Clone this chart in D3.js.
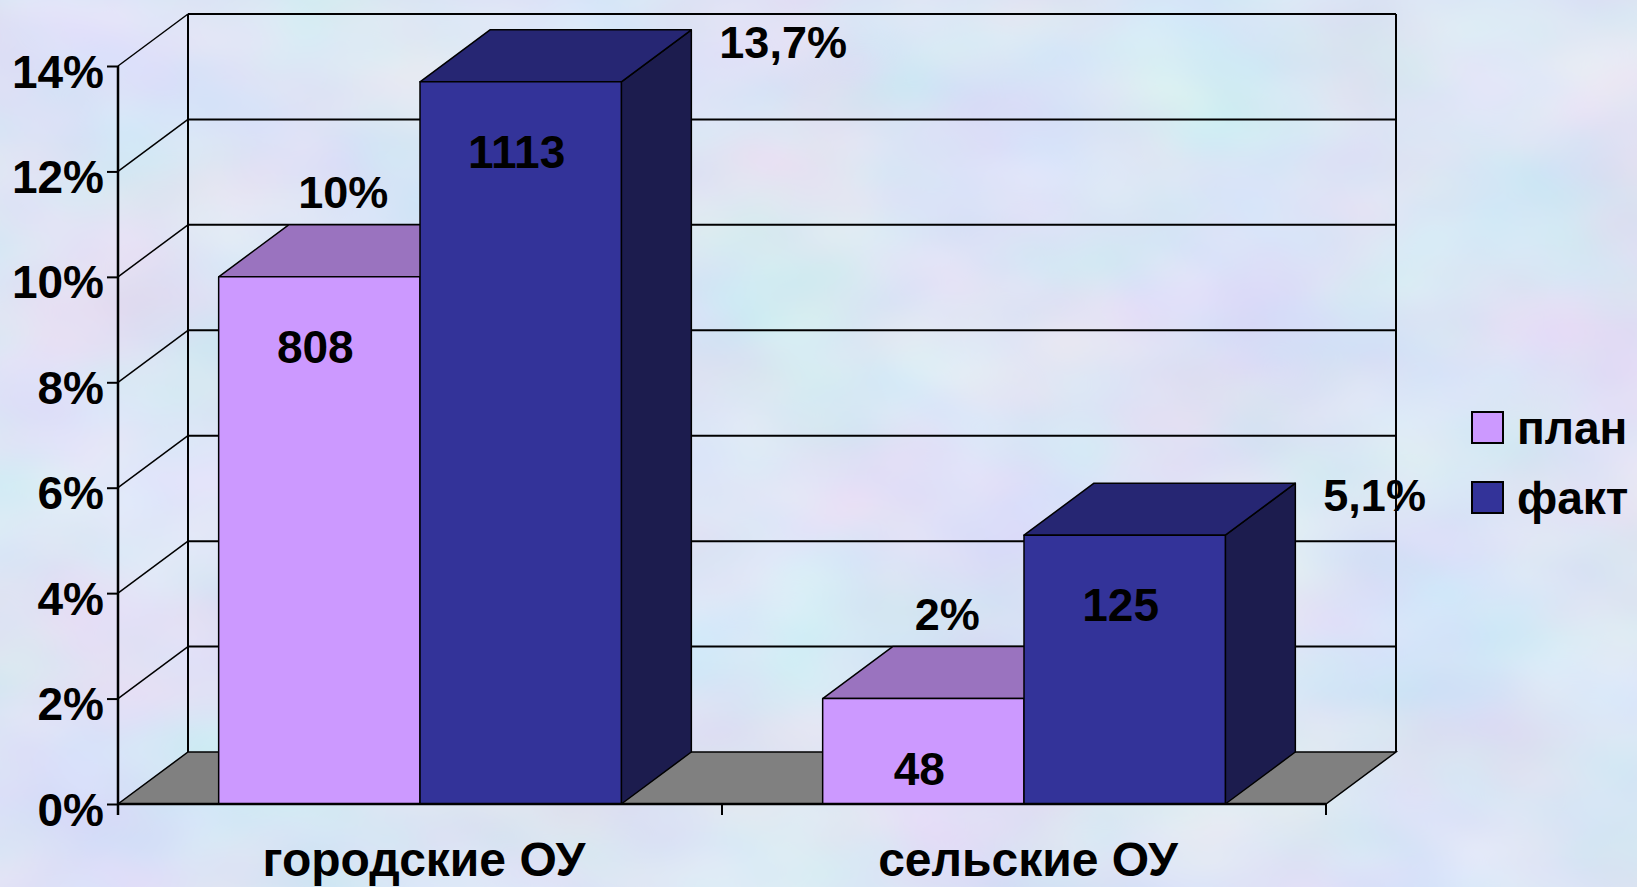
<!DOCTYPE html>
<html>
<head>
<meta charset="utf-8">
<script src="https://cdn.jsdelivr.net/npm/d3@7.9.0/dist/d3.min.js"></script>
<style>
  html, body { margin: 0; padding: 0; overflow: hidden; }
  svg { display: block; }
  text { font-family: Arial, "Liberation Sans", sans-serif; font-weight: bold; fill: #000; }
</style>
</head>
<body>
<svg id="chart"></svg>
<script>
const categories = ["городские ОУ", "сельские ОУ"];
const seriesNames = ["план", "факт"];
const planShare = [0.10, 0.02];
const factShare = [0.137, 0.051];
const planCount = [808, 48];
const factCount = [1113, 125];
const yTicks = [0, 0.02, 0.04, 0.06, 0.08, 0.10, 0.12, 0.14];

const width = 1637, height = 887;
const depth = { dx: 70, dy: -52 };
const colors = {
    "план": { front: "#cc99ff", top: "#9a73bf", side: "#664d80" },
    "факт": { front: "#333399", top: "#262673", side: "#1c1c4e" }
};

const svg = d3.select("#chart").attr("width", width).attr("height", height);

// cloudy background
const defs = svg.append("defs");
const filt = defs.append("filter").attr("id", "clouds")
    .attr("x", 0).attr("y", 0).attr("width", "100%").attr("height", "100%");
filt.append("feTurbulence").attr("type", "fractalNoise")
    .attr("baseFrequency", "0.0045 0.007").attr("numOctaves", 3).attr("seed", 7);
filt.append("feColorMatrix").attr("type", "matrix")
    .attr("values", "0.32 0 0 0 0.55  0 0.24 0 0 0.66  0 0 0.14 0 0.84  0 0 0 0 1");
svg.append("rect").attr("width", width).attr("height", height).attr("fill", "#c8d6f2");
svg.append("rect").attr("width", width).attr("height", height).attr("filter", "url(#clouds)");

const x = d3.scaleBand().domain(categories).range([118, 1326]);
const xs = d3.scaleBand().domain(seriesNames).range([0, x.bandwidth()]).paddingOuter(0.5);
const y = d3.scaleLinear().domain([0, 0.14]).range([804, 66]);

const x0 = x.range()[0], x1 = x.range()[1];
const pct = v => d3.format(".1~f")(v * 100).replace(".", ",") + "%";

// back wall and side wall gridlines
const grid = svg.append("g").attr("stroke", "#000").attr("fill", "none");
grid.selectAll(".back").data(yTicks.slice(1)).join("line")
    .attr("x1", x0 + depth.dx).attr("x2", x1 + depth.dx)
    .attr("y1", d => y(d) + depth.dy).attr("y2", d => y(d) + depth.dy)
    .attr("stroke-width", 2);
grid.selectAll(".side").data(yTicks.slice(1)).join("line")
    .attr("x1", x0).attr("x2", x0 + depth.dx)
    .attr("y1", d => y(d)).attr("y2", d => y(d) + depth.dy)
    .attr("stroke-width", 1.5);
grid.append("line")
    .attr("x1", x0 + depth.dx).attr("x2", x0 + depth.dx)
    .attr("y1", y(0.14) + depth.dy).attr("y2", y(0) + depth.dy).attr("stroke-width", 2);
grid.append("line")
    .attr("x1", x1 + depth.dx).attr("x2", x1 + depth.dx)
    .attr("y1", y(0.14) + depth.dy).attr("y2", y(0) + depth.dy).attr("stroke-width", 2);

// floor
svg.append("path")
    .attr("d", `M${x0},${y(0)}L${x1},${y(0)}L${x1 + depth.dx},${y(0) + depth.dy}L${x0 + depth.dx},${y(0) + depth.dy}Z`)
    .attr("fill", "#808080").attr("stroke", "#000").attr("stroke-width", 1.5);

// bars
const bars = [];
categories.forEach((c, i) => {
    bars.push({ cat: c, s: "план", v: planShare[i], n: planCount[i] });
    bars.push({ cat: c, s: "факт", v: factShare[i], n: factCount[i] });
});

const barG = svg.append("g").attr("stroke", "#000").attr("stroke-width", 1.5).attr("stroke-linejoin", "round");
bars.forEach(b => {
    const bx = x(b.cat) + xs(b.s), bw = xs.bandwidth();
    const top = y(b.v), base = y(0);
    const g = barG.append("g");
    g.append("path")
        .attr("d", `M${bx + bw},${base}L${bx + bw + depth.dx},${base + depth.dy}L${bx + bw + depth.dx},${top + depth.dy}L${bx + bw},${top}Z`)
        .attr("fill", colors[b.s].side);
    g.append("path")
        .attr("d", `M${bx},${top}L${bx + depth.dx},${top + depth.dy}L${bx + bw + depth.dx},${top + depth.dy}L${bx + bw},${top}Z`)
        .attr("fill", colors[b.s].top);
    g.append("rect")
        .attr("x", bx).attr("y", top).attr("width", bw).attr("height", base - top)
        .attr("fill", colors[b.s].front);
});

// axes
const yAxis = svg.append("g").attr("transform", `translate(${x0},0)`)
    .call(d3.axisLeft(y).tickValues(yTicks).tickFormat(d3.format(".0%")).tickSize(11).tickSizeOuter(0));
yAxis.select(".domain").attr("stroke", "#000").attr("stroke-width", 2.5).attr("d", `M0,${y(0.14)}V${y(0) + 11}`);
yAxis.selectAll(".tick line").attr("stroke", "#000").attr("stroke-width", 2);
yAxis.selectAll(".tick text")
    .attr("x", -14).attr("dy", null).attr("y", 21)
    .style("font-size", "46px").style("font-family", "Arial, 'Liberation Sans', sans-serif").style("font-weight", "bold");

svg.append("line").attr("x1", x0).attr("x2", x1).attr("y1", y(0)).attr("y2", y(0))
    .attr("stroke", "#000").attr("stroke-width", 2.5);
svg.selectAll(".xtick").data([x0, x(categories[1]), x1]).join("line")
    .attr("x1", d => d).attr("x2", d => d).attr("y1", y(0)).attr("y2", y(0) + 11)
    .attr("stroke", "#000").attr("stroke-width", 2);
svg.selectAll(".cat").data(categories).join("text")
    .attr("x", d => x(d) + x.bandwidth() / 2 + 4).attr("y", 876)
    .attr("text-anchor", "middle").style("font-size", "48px").text(d => d);

// count labels on front faces
svg.selectAll(".count").data(bars).join("text")
    .attr("x", d => x(d.cat) + xs(d.s) + xs.bandwidth() / 2 - 4)
    .attr("y", d => y(d.v) + 86)
    .attr("text-anchor", "middle").style("font-size", "46px").text(d => d.n);

// share labels
svg.selectAll(".share").data(bars).join("text")
    .attr("x", d => d.s === "план"
        ? x(d.cat) + xs(d.s) + xs.bandwidth() / 2 + 24
        : x(d.cat) + xs(d.s) + xs.bandwidth() + depth.dx + 28)
    .attr("y", d => d.s === "план" ? y(d.v) + depth.dy - 17 : y(d.v) + depth.dy + 28)
    .attr("text-anchor", d => d.s === "план" ? "middle" : "start")
    .style("font-size", "45px").text(d => pct(d.v));

// legend
const legend = svg.selectAll(".leg").data(seriesNames).join("g")
    .attr("transform", (d, i) => `translate(1472,${412 + i * 70})`);
legend.append("rect").attr("width", 31).attr("height", 31)
    .attr("fill", d => colors[d].front).attr("stroke", "#000").attr("stroke-width", 2);
legend.append("text").attr("x", 45).attr("y", 32).style("font-size", "46px").text(d => d);
</script>
</body>
</html>
